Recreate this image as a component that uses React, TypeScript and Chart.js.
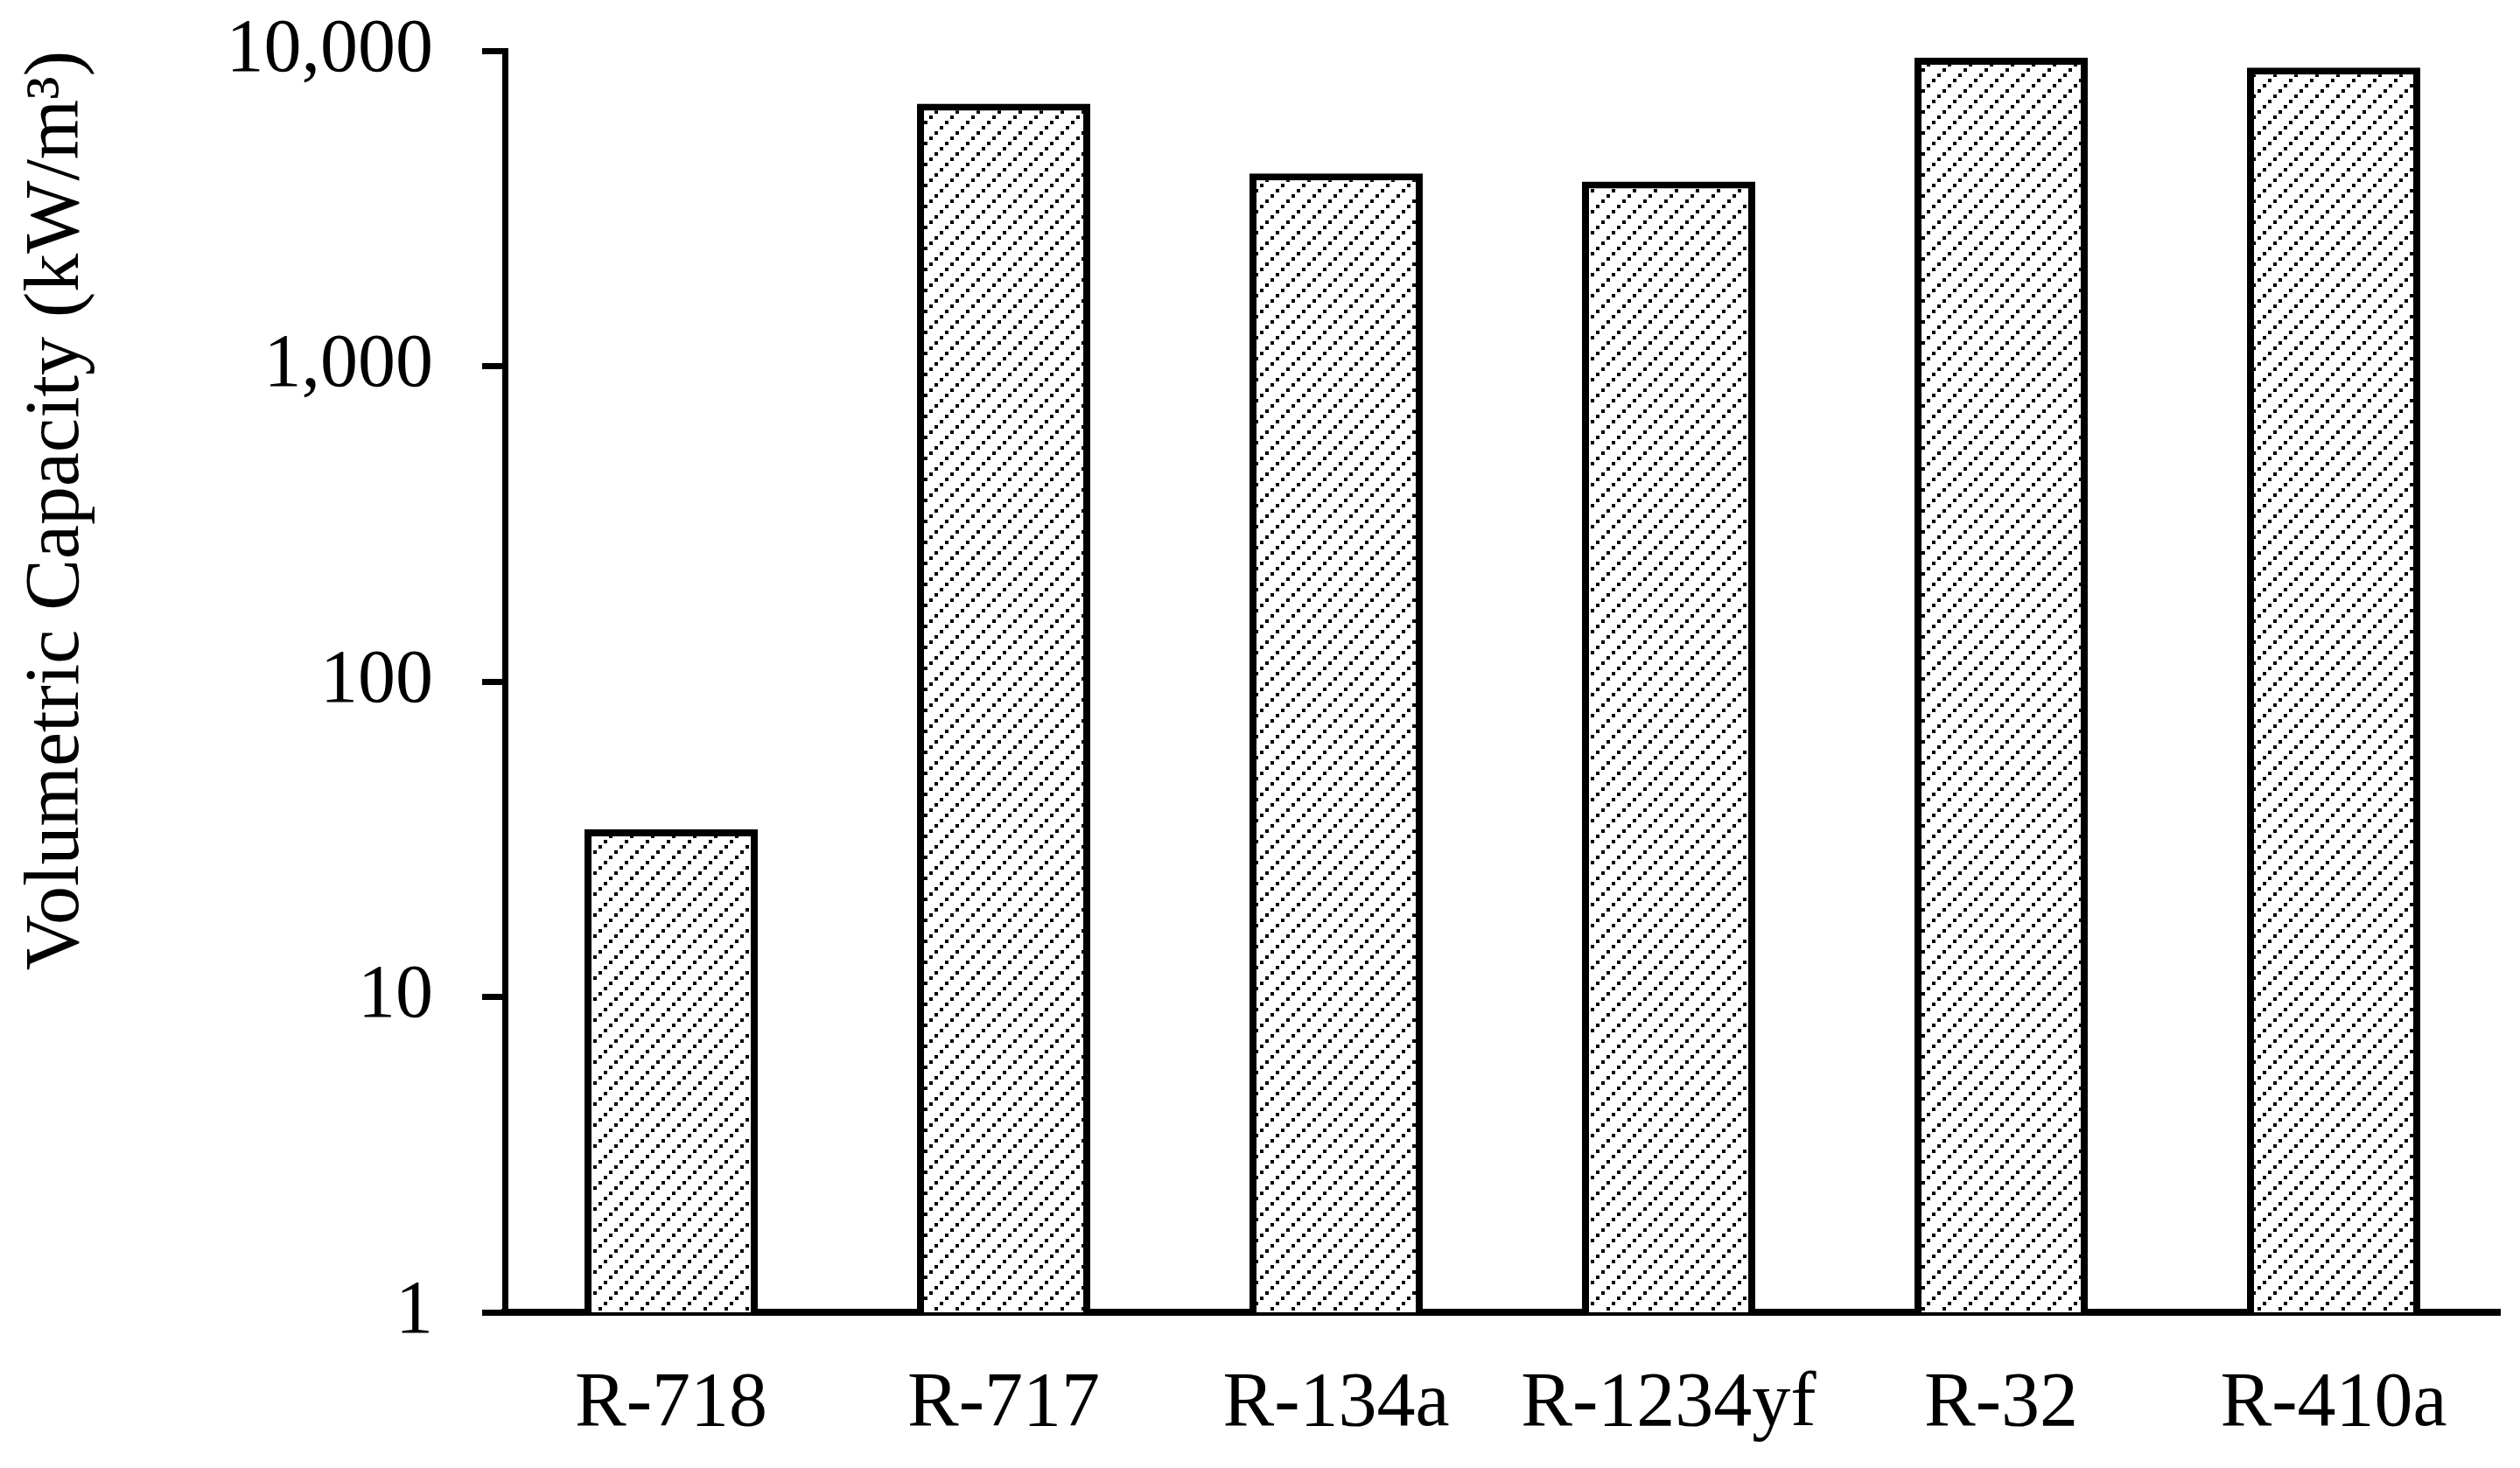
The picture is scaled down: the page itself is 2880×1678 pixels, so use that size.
import React, { useEffect, useRef } from 'react';
import { Chart, registerables } from 'chart.js';

Chart.register(...registerables);

const categories = ['R-718', 'R-717', 'R-134a', 'R-1234yf', 'R-32', 'R-410a'];
const capacityValues = [34, 6800, 4080, 3850, 9500, 8840];
const yTickValues = [1, 10, 100, 1000, 10000];
const yTickLabels = ['1', '10', '100', '1,000', '10,000'];
const yAxisTitle = 'Volumetric Capacity (kW/m³)';

const FONT = 'Liberation Serif';

export default function App() {
  const ref = useRef<HTMLCanvasElement>(null);

  useEffect(() => {
    const canvas = ref.current;
    if (!canvas) return;
    const ctx = canvas.getContext('2d');
    if (!ctx) return;

    const tile = document.createElement('canvas');
    tile.width = 24;
    tile.height = 24;
    const t = tile.getContext('2d')!;
    t.fillStyle = '#ffffff';
    t.fillRect(0, 0, 24, 24);
    t.fillStyle = '#000000';
    for (let i = 0; i < 4; i++) {
      t.fillRect(18 - 6 * i, 6 * i, 4, 4);
    }
    const pattern = ctx.createPattern(tile, 'repeat');

    const chart = new Chart(ctx, {
      type: 'bar',
      data: {
        labels: categories,
        datasets: [
          {
            data: capacityValues,
            backgroundColor: pattern as any,
            borderColor: '#000000',
            borderWidth: 8,
            categoryPercentage: 1,
            barPercentage: 0.521,
          },
        ],
      },
      options: {
        responsive: false,
        animation: false,
        devicePixelRatio: 1,
        layout: { padding: { top: 58, right: 23, left: 0, bottom: 0 } },
        plugins: {
          legend: { display: false },
          tooltip: { enabled: false },
        },
        scales: {
          x: {
            grid: { display: false, drawTicks: false },
            border: { display: true, color: '#000000', width: 8 },
            ticks: {
              color: '#000000',
              font: { family: FONT, size: 88 },
              padding: 53,
              maxRotation: 0,
              autoSkip: false,
            },
            afterFit: (s: any) => {
              s.height = 178;
              s.paddingLeft = 0;
              s.paddingRight = 0;
            },
          },
          y: {
            type: 'logarithmic',
            min: 1,
            max: 10000,
            afterBuildTicks: (s: any) => {
              s.ticks = yTickValues.map((v) => ({ value: v }));
            },
            ticks: {
              color: '#000000',
              font: { family: FONT, size: 86 },
              padding: 56,
              callback: (v: any) => {
                const i = yTickValues.indexOf(Number(v));
                return i >= 0 ? yTickLabels[i] : '';
              },
            },
            grid: {
              display: true,
              drawOnChartArea: false,
              drawTicks: true,
              tickLength: 26,
              tickWidth: 7,
              tickColor: '#000000',
            },
            border: { display: true, color: '#000000', width: 7 },
            title: {
              display: true,
              text: yAxisTitle,
              align: 'end',
              color: '#000000',
              font: { family: FONT, size: 88 },
              padding: { top: 13, bottom: 0 },
            },
            afterFit: (s: any) => {
              s.width = 577;
              s.paddingTop = 0;
              s.paddingBottom = 0;
            },
          },
        },
      },
    });

    return () => {
      chart.destroy();
    };
  }, []);

  return (
    <div style={{ position: 'absolute', left: 0, top: 0, width: 2880, height: 1678, background: '#ffffff' }}>
      <canvas ref={ref} width={2880} height={1678} style={{ display: 'block' }} />
    </div>
  );
}
